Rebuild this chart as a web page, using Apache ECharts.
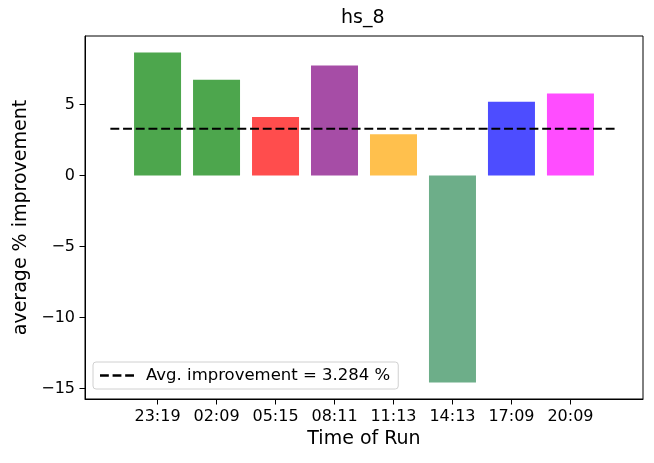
<!DOCTYPE html>
<html>
<head>
<meta charset="utf-8">
<script src="https://cdn.jsdelivr.net/npm/echarts@6/dist/echarts.min.js"></script>
<style>
  html, body { margin: 0; padding: 0; background: #fff; }
  #chart { width: 654px; height: 463px; }
</style>
</head>
<body>
<div id="chart"></div>
<script>
// run times and the improvement of each run
var runTimes = ["23:19", "02:09", "05:15", "08:11", "11:13", "14:13", "17:09", "20:09"];
var improvement = [8.65, 6.74, 4.11, 7.73, 2.9, -14.57, 5.18, 5.77];
var barColors = ["#4da64d", "#4da64d", "#ff4d4d", "#a64da6", "#ffc04d", "#6dae89", "#4d4dff", "#ff4dff"];
var avgImprovement = 3.284;
var avgSpan = [-0.8, 7.8];
var yTicks = [-15, -10, -5, 0, 5];

var fontFamily = "DejaVu Sans";
var legendName = "Avg. improvement = " + avgImprovement + " %";

var barData = improvement.map(function (v, i) {
    return { value: [i, v], itemStyle: { color: barColors[i] } };
});
var xTicks = runTimes.map(function (t, i) { return i; });

var chart = echarts.init(document.getElementById("chart"));
chart.setOption({
    animation: false,
    textStyle: { fontFamily: fontFamily },
    title: {
        text: "hs_8",
        left: 341, top: 9, padding: 0,
        textStyle: { fontSize: 19, fontWeight: "normal", color: "#000", fontFamily: fontFamily }
    },
    grid: {
        left: 85, right: 11, top: 36, bottom: 64,
        show: true, borderColor: "#000", borderWidth: 1
    },
    legend: {
        left: 93, top: 362,
        orient: "vertical",
        data: [{
            name: legendName,
            icon: "path://M0,0h8.9v2.4h-8.9z M12.7,0h8.9v2.4h-8.9z M25.4,0h8.9v2.4h-8.9z"
        }],
        itemWidth: 34, itemHeight: 2.4,
        padding: [5, 8, 5, 7],
        borderColor: "#d0d0d0", borderWidth: 1, borderRadius: 3,
        backgroundColor: "rgba(255,255,255,0.8)",
        textStyle: { fontSize: 16.5, color: "#000", fontFamily: fontFamily, padding: [0, 0, 0, 7] }
    },
    xAxis: {
        type: "value",
        min: -1.23, max: 8.23,
        name: "Time of Run",
        nameLocation: "middle",
        nameGap: 31,
        nameTextStyle: { fontSize: 19, color: "#000", fontFamily: fontFamily },
        splitLine: { show: false },
        axisLine: { show: true, onZero: false, lineStyle: { color: "#000", width: 1 } },
        axisTick: { show: true, length: 5.5, customValues: xTicks, lineStyle: { color: "#000" } },
        axisLabel: {
            customValues: xTicks,
            fontSize: 16, color: "#000", margin: 10,
            formatter: function (v) { return runTimes[v]; }
        }
    },
    yAxis: {
        type: "value",
        min: -15.73, max: 9.81,
        name: "average % improvement",
        nameLocation: "middle",
        nameGap: 48,
        nameTextStyle: { fontSize: 19, color: "#000", fontFamily: fontFamily },
        splitLine: { show: false },
        axisLine: { show: true, onZero: false, lineStyle: { color: "#000", width: 1 } },
        axisTick: { show: true, length: 5.5, customValues: yTicks, lineStyle: { color: "#000" } },
        axisLabel: {
            customValues: yTicks,
            fontSize: 16, color: "#000", margin: 10,
            formatter: function (v) { return String(v).replace("-", "\u2212"); }
        }
    },
    series: [
        {
            type: "bar",
            data: barData,
            barWidth: 47
        },
        {
            name: legendName,
            type: "line",
            symbol: "none",
            data: [[avgSpan[0], avgImprovement], [avgSpan[1], avgImprovement]],
            lineStyle: { color: "#000", width: 2.2, type: [8.9, 3.8] },
            itemStyle: { color: "#000" },
            z: 5
        }
    ]
});
</script>
</body>
</html>
